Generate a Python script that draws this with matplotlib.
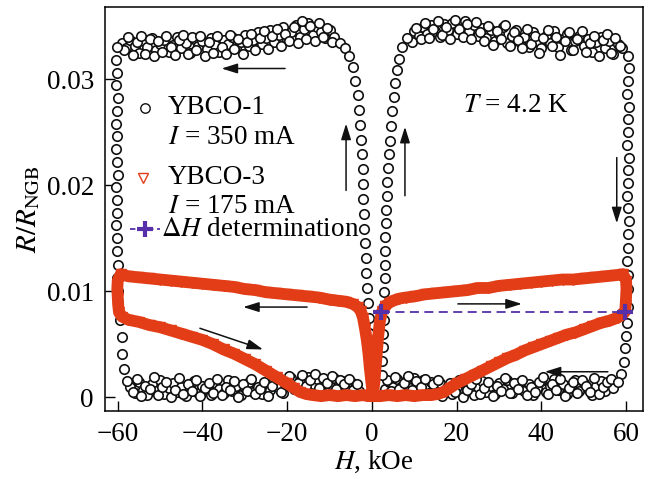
import matplotlib
matplotlib.use("Agg")
import numpy as np
from matplotlib import pyplot as plt

# ---- YBCO-1 (I = 350 mA) ----
b1_top_left_h = [-59, -58, -57, -56, -55, -54, -53, -52, -51, -50, -49, -48,
                 -47, -46, -45, -44, -43, -42, -41, -40, -39, -38, -37, -36,
                 -35, -34, -33, -32, -31, -30, -29, -28, -27, -26, -25, -24,
                 -23, -22, -21, -20, -19, -18, -17, -16, -15, -14, -13, -12,
                 -11, -10, -9]
b1_top_left_r = [0.0334, 0.0329, 0.0337, 0.0331, 0.0325, 0.0336, 0.0330,
                 0.0339, 0.0327, 0.0333, 0.0337, 0.0326, 0.0332, 0.0340,
                 0.0329, 0.0334, 0.0325, 0.0338, 0.0331, 0.0336, 0.0328,
                 0.0339, 0.0332, 0.0326, 0.0337, 0.0333, 0.0340, 0.0329,
                 0.0335, 0.0342, 0.0331, 0.0337, 0.0344, 0.0333, 0.0339,
                 0.0346, 0.0335, 0.0342, 0.0349, 0.0337, 0.0344, 0.0351,
                 0.0340, 0.0347, 0.0353, 0.0342, 0.0349, 0.0344, 0.0339,
                 0.0346, 0.0340]
b1_top_left2_h = [-58.5, -57.5, -56.5, -55.5, -54.5, -53.5, -52.5, -51.5,
                  -50.5, -49.5, -48.5, -47.5, -46.5, -45.5, -44.5, -43.5,
                  -42.5, -41.5, -40.5, -39.5, -38.5, -37.5, -36.5, -35.5,
                  -34.5, -33.5, -32.5, -31.5, -30.5, -29.5, -28.5, -27.5,
                  -26.5, -25.5, -24.5, -23.5, -22.5, -21.5, -20.5, -19.5,
                  -18.5, -17.5, -16.5, -15.5, -14.5, -13.5, -12.5, -11.5,
                  -10.5, -9.5]
b1_top_left2_r = [0.0327, 0.0340, 0.0323, 0.0335, 0.0341, 0.0324, 0.0338,
                  0.0322, 0.0336, 0.0326, 0.0341, 0.0330, 0.0323, 0.0337,
                  0.0342, 0.0324, 0.0340, 0.0327, 0.0341, 0.0322, 0.0335,
                  0.0325, 0.0341, 0.0330, 0.0324, 0.0342, 0.0328, 0.0338,
                  0.0324, 0.0335, 0.0343, 0.0327, 0.0339, 0.0345, 0.0328,
                  0.0341, 0.0347, 0.0331, 0.0343, 0.0336, 0.0349, 0.0334,
                  0.0355, 0.0338, 0.0350, 0.0336, 0.0353, 0.0340, 0.0348,
                  0.0335]
b1_dip_left_h = [-7.5, -6.3, -5.3, -4.5, -3.9, -3.4, -3.0, -2.7, -2.5, -2.3,
                 -2.2, -2.1, -2.0, -1.9, -1.8, -1.6, -1.5, -1.4, -1.2, -1.0,
                 -0.8, -0.6, -0.4, -0.3, -0.1]
b1_dip_left_r = [0.0334, 0.0329, 0.0322, 0.0311, 0.0298, 0.0285, 0.0271,
                 0.0257, 0.0243, 0.0229, 0.0215, 0.0201, 0.0187, 0.0173,
                 0.0159, 0.0145, 0.0131, 0.0117, 0.0103, 0.0089, 0.0075,
                 0.0061, 0.0047, 0.0033, 0.0019]
b1_dip_right_h = [2.4, 2.5, 2.6, 2.7, 2.8, 2.85, 2.9, 3.0, 3.1, 3.15, 3.2,
                  3.3, 3.4, 3.5, 3.6, 3.8, 4.0, 4.2, 4.5, 4.8, 5.1, 5.5, 5.9,
                  6.4, 7.2, 8.3]
b1_dip_right_r = [0.0021, 0.0034, 0.0047, 0.0060, 0.0073, 0.0086, 0.0099,
                  0.0112, 0.0125, 0.0138, 0.0151, 0.0164, 0.0177, 0.0190,
                  0.0203, 0.0216, 0.0229, 0.0242, 0.0256, 0.0270, 0.0283,
                  0.0296, 0.0309, 0.0319, 0.0330, 0.0339]
b1_top_right_h = [9, 10, 11, 12, 13, 14, 15, 16, 17, 18, 19, 20, 21, 22, 23,
                  24, 25, 26, 27, 28, 29, 30, 31, 32, 33, 34, 35, 36, 37, 38,
                  39, 40, 41, 42, 43, 44, 45, 46, 47, 48, 49, 50, 51, 52, 53,
                  54, 55, 56, 57, 58, 59]
b1_top_right_r = [0.0338, 0.0345, 0.0341, 0.0349, 0.0343, 0.0351, 0.0345,
                  0.0340, 0.0352, 0.0346, 0.0353, 0.0343, 0.0350, 0.0355,
                  0.0345, 0.0351, 0.0341, 0.0348, 0.0339, 0.0346, 0.0336,
                  0.0343, 0.0349, 0.0334, 0.0341, 0.0346, 0.0335, 0.0340,
                  0.0330, 0.0344, 0.0336, 0.0329, 0.0341, 0.0334, 0.0345,
                  0.0330, 0.0338, 0.0343, 0.0327, 0.0336, 0.0341, 0.0331,
                  0.0338, 0.0326, 0.0335, 0.0340, 0.0329, 0.0336, 0.0324,
                  0.0333, 0.0329]
b1_top_right2_h = [9.5, 10.5, 11.5, 12.5, 13.5, 14.5, 15.5, 16.5, 17.5, 18.5,
                   19.5, 20.5, 21.5, 22.5, 23.5, 24.5, 25.5, 26.5, 27.5,
                   28.5, 29.5, 30.5, 31.5, 32.5, 33.5, 34.5, 35.5, 36.5,
                   37.5, 38.5, 39.5, 40.5, 41.5, 42.5, 43.5, 44.5, 45.5,
                   46.5, 47.5, 48.5, 49.5, 50.5, 51.5, 52.5, 53.5, 54.5,
                   55.5, 56.5, 57.5, 58.5]
b1_top_right2_r = [0.0335, 0.0348, 0.0338, 0.0353, 0.0339, 0.0347, 0.0355,
                   0.0342, 0.0349, 0.0338, 0.0356, 0.0347, 0.0340, 0.0352,
                   0.0338, 0.0354, 0.0344, 0.0336, 0.0350, 0.0332, 0.0345,
                   0.0338, 0.0351, 0.0331, 0.0344, 0.0337, 0.0329, 0.0347,
                   0.0333, 0.0341, 0.0325, 0.0339, 0.0346, 0.0331, 0.0340,
                   0.0323, 0.0336, 0.0344, 0.0327, 0.0338, 0.0345, 0.0326,
                   0.0334, 0.0341, 0.0322, 0.0337, 0.0343, 0.0325, 0.0339,
                   0.0331]
b1_edge_right_h = [60.4, 60.6, 60.5, 60.3, 60.6, 60.4, 60.5, 60.3, 60.6,
                   60.4, 60.5, 60.3, 60.5, 60.6, 60.4, 60.5, 60.3, 60.4,
                   60.5, 60.4, 60.2, 60.0, 59.8, 59.4, 58.8, 58.0]
b1_edge_right_r = [0.0322, 0.0310, 0.0298, 0.0286, 0.0274, 0.0262, 0.0250,
                   0.0238, 0.0226, 0.0214, 0.0202, 0.0190, 0.0178, 0.0166,
                   0.0154, 0.0141, 0.0128, 0.0115, 0.0102, 0.0085, 0.0070,
                   0.0058, 0.0046, 0.0033, 0.0022, 0.0014]
b1_bottom_right_h = [3, 4, 5, 6, 7, 8, 9, 10, 11, 12, 13, 14, 15, 16, 17, 18,
                     19, 20, 21, 22, 23, 24, 25, 26, 27, 28, 29, 30, 31, 32,
                     33, 34, 35, 36, 37, 38, 39, 40, 41, 42, 43, 44, 45, 46,
                     47, 48, 49, 50, 51, 52, 53, 54, 55, 56, 57]
b1_bottom_right_r = [0.0008, 0.0014, 0.0010, 0.0017, 0.0011, 0.0015, 0.0009,
                     0.0018, 0.0012, 0.0016, 0.0010, 0.0014, 0.0008, 0.0013,
                     0.0005, 0.0011, 0.0003, 0.0009, 0.0014, 0.0006, 0.0012,
                     0.0002, 0.0010, 0.0015, 0.0005, 0.0011, 0.0003, 0.0013,
                     0.0008, 0.0016, 0.0004, 0.0010, 0.0014, 0.0006, 0.0012,
                     0.0002, 0.0009, 0.0015, 0.0005, 0.0011, 0.0017, 0.0007,
                     0.0012, 0.0003, 0.0010, 0.0016, 0.0006, 0.0013, 0.0008,
                     0.0002, 0.0011, 0.0015, 0.0006, 0.0012, 0.0009]
b1_bottom_right2_h = [3.5, 4.5, 5.5, 6.5, 7.5, 8.5, 9.5, 10.5, 11.5, 12.5,
                      13.5, 14.5, 15.5, 16.5, 17.5, 18.5, 19.5, 20.5, 21.5,
                      22.5, 23.5, 24.5, 25.5, 26.5, 27.5, 28.5, 29.5, 30.5,
                      31.5, 32.5, 33.5, 34.5, 35.5, 36.5, 37.5, 38.5, 39.5,
                      40.5, 41.5, 42.5, 43.5, 44.5, 45.5, 46.5, 47.5, 48.5,
                      49.5, 50.5, 51.5, 52.5, 53.5, 54.5, 55.5, 56.5]
b1_bottom_right2_r = [0.0016, 0.0006, 0.0019, 0.0008, 0.0013, 0.0020, 0.0007,
                      0.0015, 0.0010, 0.0017, 0.0004, 0.0012, 0.0016, 0.0001,
                      0.0008, 0.0013, 0.0005, 0.0016, 0.0000, 0.0007, 0.0012,
                      0.0017, 0.0003, 0.0009, 0.0014, 0.0001, 0.0011, 0.0006,
                      0.0018, 0.0004, 0.0013, 0.0008, 0.0016, 0.0002, 0.0010,
                      0.0005, 0.0014, 0.0019, 0.0003, 0.0012, 0.0007, 0.0017,
                      0.0001, 0.0009, 0.0014, 0.0004, 0.0016, 0.0011, 0.0005,
                      0.0018, 0.0003, 0.0010, 0.0014, 0.0017]
b1_edge_left_h = [-60.2, -60.4, -60.1, -60.3, -60.0, -60.2, -60.4, -60.1,
                  -60.3, -60.2, -60.0, -60.3, -60.1, -60.2, -60.4, -60.1,
                  -60.2, -60.0, -60.1, -59.9, -59.9, -59.5, -59.0, -58.9,
                  -58.6, -57.9]
b1_edge_left_r = [0.0330, 0.0318, 0.0306, 0.0294, 0.0282, 0.0270, 0.0258,
                  0.0246, 0.0234, 0.0222, 0.0210, 0.0198, 0.0186, 0.0174,
                  0.0162, 0.0150, 0.0138, 0.0125, 0.0112, 0.0100, 0.0089,
                  0.0073, 0.0057, 0.0041, 0.0027, 0.0015]
b1_bottom_left_h = [-57, -56, -55, -54, -53, -52, -51, -50, -49, -48, -47,
                    -46, -45, -44, -43, -42, -41, -40, -39, -38, -37, -36,
                    -35, -34, -33, -32, -31, -30, -29, -28, -27, -26, -25,
                    -24, -23, -22, -21, -20, -19, -18, -17, -16, -15, -14,
                    -13, -12, -11, -10, -9, -8, -7, -6, -5, -4, -3]
b1_bottom_left_r = [0.0010, 0.0004, 0.0014, 0.0007, 0.0002, 0.0012, 0.0006,
                    0.0016, 0.0003, 0.0009, 0.0013, 0.0005, 0.0010, 0.0001,
                    0.0008, 0.0015, 0.0004, 0.0011, 0.0007, 0.0002, 0.0013,
                    0.0008, 0.0004, 0.0016, 0.0006, 0.0011, 0.0002, 0.0009,
                    0.0014, 0.0005, 0.0010, 0.0003, 0.0012, 0.0007, 0.0015,
                    0.0009, 0.0004, 0.0013, 0.0018, 0.0010, 0.0015, 0.0008,
                    0.0019, 0.0012, 0.0017, 0.0010, 0.0016, 0.0012, 0.0018,
                    0.0011, 0.0015, 0.0009, 0.0014, 0.0010, 0.0006]
b1_bottom_left2_h = [-56.5, -55.5, -54.5, -53.5, -52.5, -51.5, -50.5, -49.5,
                     -48.5, -47.5, -46.5, -45.5, -44.5, -43.5, -42.5, -41.5,
                     -40.5, -39.5, -38.5, -37.5, -36.5, -35.5, -34.5, -33.5,
                     -32.5, -31.5, -30.5, -29.5, -28.5, -27.5, -26.5, -25.5,
                     -24.5, -23.5, -22.5, -21.5, -20.5, -19.5, -18.5, -17.5,
                     -16.5, -15.5, -14.5, -13.5, -12.5, -11.5, -10.5, -9.5,
                     -8.5, -7.5, -6.5, -5.5, -4.5, -3.5]
b1_bottom_left2_r = [0.0005, 0.0017, 0.0001, 0.0011, 0.0008, 0.0019, 0.0002,
                     0.0010, 0.0014, 0.0000, 0.0007, 0.0018, 0.0003, 0.0012,
                     0.0006, 0.0016, 0.0001, 0.0009, 0.0013, 0.0004, 0.0017,
                     0.0002, 0.0010, 0.0007, 0.0015, 0.0000, 0.0012, 0.0006,
                     0.0017, 0.0003, 0.0008, 0.0014, 0.0001, 0.0011, 0.0017,
                     0.0005, 0.0012, 0.0020, 0.0008, 0.0013, 0.0021, 0.0011,
                     0.0016, 0.0022, 0.0009, 0.0018, 0.0013, 0.0020, 0.0008,
                     0.0016, 0.0012, 0.0017, 0.0007, 0.0012]

# ---- YBCO-3 (I = 175 mA), one closed sweep ----
b3_up_right_h = [3.2, 4, 5, 6.5, 8, 10, 12.5, 15, 17.5, 20, 22.5, 25, 27.5,
                 30, 32.5, 35, 37.5, 40, 42.5, 45, 47.5, 50, 52.5, 55, 57.5,
                 59.3]
b3_up_right_r = [0.0086, 0.0089, 0.0091, 0.0093, 0.0094, 0.0095, 0.0097,
                 0.0098, 0.0099, 0.0100, 0.0101, 0.0103, 0.0103, 0.0105,
                 0.0106, 0.0107, 0.0108, 0.0109, 0.0110, 0.0111, 0.0111,
                 0.0112, 0.0113, 0.0114, 0.0115, 0.0116]
b3_edge_right_h = [60.0, 60.1, 60.0, 59.9, 59.8]
b3_edge_right_r = [0.0110, 0.0102, 0.0094, 0.0087, 0.0081]
b3_low_right_h = [59.2, 58, 56, 54, 52, 50, 48, 46, 44, 42, 40, 38, 36, 34,
                  32, 30, 28, 26, 24, 22, 20, 18.5, 17, 15.5, 14, 12, 10, 8,
                  6, 4, 2, 1]
b3_low_right_r = [0.0078, 0.0075, 0.0072, 0.0070, 0.0067, 0.0064, 0.0061,
                  0.0059, 0.0056, 0.0053, 0.0050, 0.0047, 0.0044, 0.0040,
                  0.0037, 0.0033, 0.0029, 0.0025, 0.0021, 0.0017, 0.0013,
                  0.0009, 0.0005, 0.0003, 0.0002, 0.0002, 0.0001, 0.0002,
                  0.0001, 0.0002, 0.0001, 0.0001]
b3_v_left_h = [0.25, -0.1, -0.5, -0.8, -1.2, -1.6, -2.1, -2.6, -3.3]
b3_v_left_r = [0.0001, 0.0014, 0.0028, 0.0041, 0.0054, 0.0064, 0.0075,
               0.0081, 0.0085]
b3_up_left_h = [-4.5, -6, -8, -10, -12.5, -15, -17.5, -20, -22.5, -25, -27.5,
                -30, -32.5, -35, -37.5, -40, -42.5, -45, -47.5, -50, -52.5,
                -55, -57.5, -59.3]
b3_up_left_r = [0.0088, 0.0090, 0.0091, 0.0092, 0.0094, 0.0095, 0.0096,
                0.0097, 0.0098, 0.0099, 0.0101, 0.0102, 0.0104, 0.0105,
                0.0106, 0.0107, 0.0108, 0.0109, 0.0110, 0.0111, 0.0112,
                0.0113, 0.0114, 0.0116]
b3_edge_left_h = [-60.0, -60.1, -60.0, -59.9, -59.7]
b3_edge_left_r = [0.0110, 0.0102, 0.0094, 0.0087, 0.0080]
b3_low_left_h = [-59.0, -57.5, -55, -52.5, -50, -47.5, -45, -42.5, -40,
                 -37.5, -35, -32.5, -30, -27.5, -25, -22.5, -20, -18.5, -17,
                 -15.5, -14, -12, -10, -8, -6, -4, -2, -1, -0.2]
b3_low_left_r = [0.0076, 0.0073, 0.0071, 0.0068, 0.0066, 0.0063, 0.0060,
                 0.0057, 0.0054, 0.0050, 0.0045, 0.0041, 0.0036, 0.0031,
                 0.0025, 0.0019, 0.0013, 0.0009, 0.0005, 0.0003, 0.0002,
                 0.0001, 0.0002, 0.0001, 0.0002, 0.0001, 0.0002, 0.0001,
                 0.0001]
b3_v_right_h = [0.3, 0.6, 0.9, 1.2, 1.5, 1.9, 2.4, 3.2]
b3_v_right_r = [0.0003, 0.0015, 0.0030, 0.0044, 0.0058, 0.0072, 0.0081,
                0.0086]

# Delta H determination
dh_h = [2.2, 59.7]
dh_r = [0.0080, 0.0080]

xticks = [-60, -40, -20, 0, 20, 40, 60]
xticklabels = ["\u221260", "\u221240", "\u221220", "0", "20", "40", "60"]
yticks = [0, 0.01, 0.02, 0.03]
yticklabels = ["0", "0.01", "0.02", "0.03"]

# arrows: (tail H, tail R, head H, head R)
arrows = [(-20.5, 0.0310, -35.5, 0.0310),
          (-6.1, 0.0195, -6.1, 0.0258),
          (7.8, 0.0190, 7.8, 0.0255),
          (57.8, 0.0226, 57.8, 0.0164),
          (-15.3, 0.0085, -30.4, 0.0085),
          (-40.6, 0.0065, -25.7, 0.0045),
          (20.3, 0.0088, 35.4, 0.0088),
          (55.7, 0.0024, 40.8, 0.0024)]

BLACK = "#111111"
RED = "#e23d17"
PURPLE = "#5530a8"
FS = 19.5

plt.rcParams["font.family"] = ["Liberation Serif", "DejaVu Serif"]
plt.rcParams["mathtext.fontset"] = "stix"
plt.rcParams["font.size"] = FS

fig = plt.figure(figsize=(6.54, 4.79), dpi=100)
ax = fig.add_axes([0.1606, 0.142, 0.8226, 0.8434])

black_branches = [(b1_top_left_h, b1_top_left_r),
                  (b1_top_left2_h, b1_top_left2_r),
                  (b1_dip_left_h, b1_dip_left_r),
                  (b1_bottom_left_h, b1_bottom_left_r),
                  (b1_bottom_left2_h, b1_bottom_left2_r),
                  (b1_edge_left_h, b1_edge_left_r),
                  (b1_bottom_right_h, b1_bottom_right_r),
                  (b1_bottom_right2_h, b1_bottom_right2_r),
                  (b1_edge_right_h, b1_edge_right_r),
                  (b1_top_right_h, b1_top_right_r),
                  (b1_top_right2_h, b1_top_right2_r),
                  (b1_dip_right_h, b1_dip_right_r)]
for h, r in black_branches:
    ax.plot(h, r, ls="none", marker="o", ms=6.8, mfc="white", mec=BLACK,
            mew=1.2, zorder=2)

red_loop = [(b3_up_right_h, b3_up_right_r), (b3_edge_right_h, b3_edge_right_r),
            (b3_low_right_h, b3_low_right_r), (b3_v_left_h, b3_v_left_r),
            (b3_up_left_h, b3_up_left_r), (b3_edge_left_h, b3_edge_left_r),
            (b3_low_left_h, b3_low_left_r), (b3_v_right_h, b3_v_right_r)]
red_h = np.concatenate([b[0] for b in red_loop])
red_r = np.concatenate([b[1] for b in red_loop])
ax.plot(red_h, red_r, color=RED, lw=8.5, solid_joinstyle="round",
        solid_capstyle="round", zorder=3)
ax.plot(red_h, red_r, ls="none", marker="v", ms=6.5, mfc="none", mec=RED,
        mew=1.0, zorder=3)

ax.plot(dh_h, dh_r, color=PURPLE, ls=(0, (5, 3)), lw=1.3, marker="+",
        ms=12, mew=3, zorder=4)

for x0, y0, x1, y1 in arrows:
    ax.annotate("", xy=(x1, y1), xytext=(x0, y0),
                arrowprops=dict(arrowstyle="-|>,head_length=0.8,head_width=0.25",
                                color=BLACK, lw=1.1, mutation_scale=12,
                                shrinkA=0, shrinkB=0), zorder=5)

ax.text(21.5, 0.0275, "$T$ = 4.2 K", ha="left", va="center")

# legend drawn by hand so the marker sits on the first label line
tr = ax.transAxes
ax.plot([0.0743], [0.750], transform=tr, ls="none", marker="o", ms=6.8,
        mfc="white", mec=BLACK, mew=1.0)
ax.text(0.117, 0.750, "YBCO-1", transform=tr, va="center")
ax.text(0.117, 0.676, "$I$ = 350 mA", transform=tr, va="center")
ax.plot([0.0706], [0.577], transform=tr, ls="none", marker="v", ms=6.5,
        mfc="white", mec=RED, mew=1.0)
ax.text(0.117, 0.577, "YBCO-3", transform=tr, va="center")
ax.text(0.117, 0.507, "$I$ = 175 mA", transform=tr, va="center")
ax.plot([0.0465, 0.102], [0.450, 0.450], transform=tr, color=PURPLE,
        ls=(0, (3, 2)), lw=1.3)
ax.plot([0.0743], [0.450], transform=tr, ls="none", marker="+", ms=12,
        mew=3, color=PURPLE)
ax.text(0.104, 0.450, r"$\Delta H$ determination", transform=tr,
        va="center")

ax.set_xlim(-63, 64)
ax.set_ylim(-0.0013, 0.0368)
ax.set_xticks(xticks, xticklabels)
ax.set_yticks(yticks, yticklabels)
ax.tick_params(direction="in", length=7, width=1.0, labelsize=FS, pad=8)
for s in ax.spines.values():
    s.set_linewidth(1.1)
ax.set_xlabel("$H$, kOe", labelpad=1)
ax.set_ylabel(r"$R/R_{\mathrm{NGB}}$", fontsize=21, labelpad=3)

fig.savefig("out.png", dpi=100)
